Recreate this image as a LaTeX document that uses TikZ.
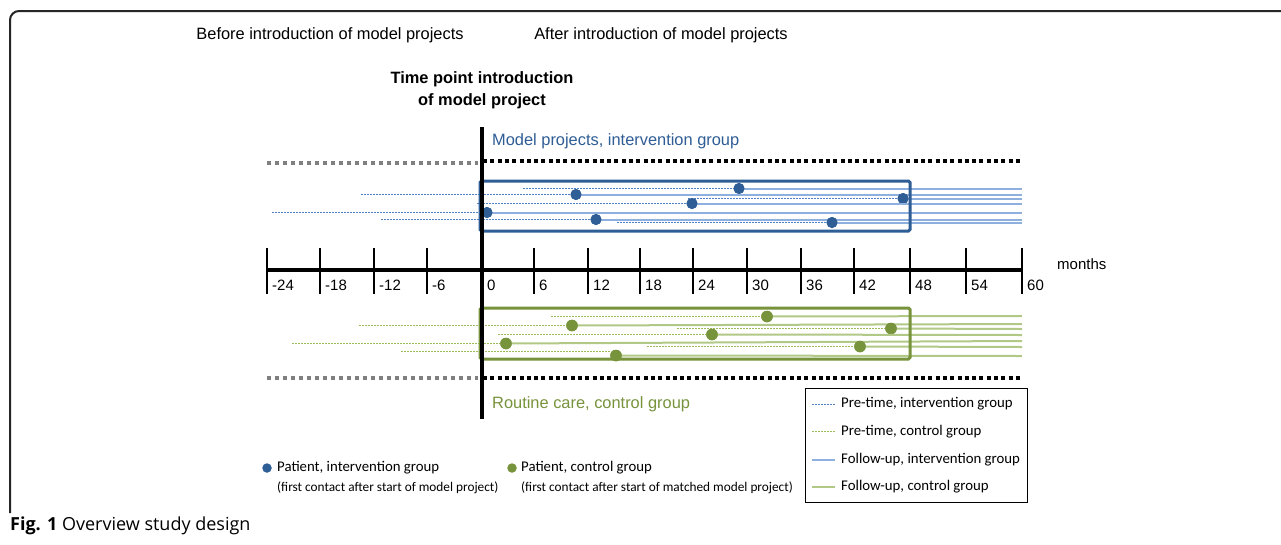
\documentclass[tikz,border=0pt]{standalone}
\usepackage{fontspec}
\setmainfont{Liberation Sans}
\newfontfamily\legfont{Carlito}
\newfontfamily\capfont{Open Sans}
\usetikzlibrary{calc}
\definecolor{ivdark}{HTML}{2F5D95}
\definecolor{ivline}{HTML}{8EB0DE}
\definecolor{ivdot}{HTML}{4F81C6}
\definecolor{ctdark}{HTML}{77933C}
\definecolor{ctline}{HTML}{B2C887}
\definecolor{ctdot}{HTML}{9BBB59}
\tikzset{
  px/.style={x=1pt,y=-1pt},
  txt/.style={inner sep=0pt,font=\fontsize{16.4}{19}\selectfont},
  ticklab/.style={inner sep=0pt,anchor=west,font=\fontsize{15}{18}\selectfont},
  legtxt/.style={inner sep=0pt,anchor=west,font=\legfont\fontsize{14.8}{17}\selectfont},
  subtxt/.style={inner sep=0pt,anchor=west,font=\legfont\fontsize{13.3}{16}\selectfont},
  pretime/.style={line width=1pt,dash pattern=on 2pt off 1pt},
  follow/.style={line width=2pt},
  patient/.style={circle,inner sep=0pt,minimum size=#1},
  sepgray/.style={line width=4pt,color=black!50,dash pattern=on 4pt off 4pt},
  sepblack/.style={line width=4pt,color=black,dash pattern=on 4pt off 3.3pt},
  groupbox/.style={line width=3pt,rounded corners=1.5pt},
}
\begin{document}
\begin{tikzpicture}[px]
\useasboundingbox (0,0) rectangle (1281,544);
\fill[white] (0,0) rectangle (1281,544);

% outer frame (top and left edges only)
\draw[line width=2pt,color=black!85,rounded corners=9pt] (10,513) -- (10,11) -- (1290,11);

% headings
\node[txt] (before) at (330,35) {Before introduction of model projects};
\node[txt] (after) at (661,35) {After introduction of model projects};
\node[txt,font=\fontsize{16.4}{19}\selectfont\bfseries] (tp1) at (482,79) {Time point introduction};
\node[txt,font=\fontsize{16.4}{19}\selectfont\bfseries] (tp2) at (482,101) {of model project};

% separators between the groups
\draw[sepgray] (267,163) -- (478,163);
\draw[sepblack] (483,161) -- (1022,161);
\draw[sepgray] (267,378) -- (478,378);
\draw[sepblack] (483,378) -- (1022,378);

% group titles
\node[txt,anchor=west,text=ivdark] (ivtitle) at (492,141) {Model projects, intervention group};
\node[txt,anchor=west,text=ctdark] (cttitle) at (492,404) {Routine care, control group};

% intervention group patients: start of pre-time / first contact / y
\foreach \xs/\xd/\yy [count=\i] in {523/739/188.5, 361/576/194.5, 688/903/198.5, 477/692/203.5, 272/487/212.5, 381/596/219.5, 617/832/222.5}{
  \node[patient=11pt,fill=ivdark] (iv\i) at (\xd,\yy) {};
  \coordinate (ivs\i) at (\xs,\yy);
  \coordinate (ivf\i) at (\xd,\yy+0.5);
  \coordinate (ive\i) at (1022,\yy+0.5);
  \draw[pretime,ivdot] (ivs\i) -- (iv\i.center);
  \draw[follow,ivline] (ivf\i) -- (ive\i);
  \node[patient=11pt,fill=ivdark] at (iv\i) {};
}

% control group patients: pre-time start x, y / end of pre-time x / first contact x, y / follow-up end y
\foreach \xs/\ys/\xp/\xd/\yd/\ye [count=\i] in {551/316.5/767/767/316.5/316, 359/325.5/572/572/325.5/324, 677/328.5/891/891/328.5/329, 498/334.5/712/712/334.5/335, 292/343.5/506/506/343.5/341, 647/346.5/860/860/346.5/347, 401/351.5/611/616/355.5/356}{
  \node[patient=11.5pt,fill=ctdark] (ct\i) at (\xd,\yd) {};
  \coordinate (cts\i) at (\xs,\ys);
  \coordinate (ctp\i) at (\xp,\ys);
  \coordinate (cte\i) at (1022,\ye);
  \draw[pretime,ctdot] (cts\i) -- (ctp\i);
  \draw[follow,ctline] (ct\i.center) -- (cte\i);
  \node[patient=11.5pt,fill=ctdark] at (ct\i) {};
}

% group boxes
\draw[groupbox,ivdark] (480,181) rectangle (910,231);
\draw[groupbox,ctdark] (480,308) rectangle (910,359);

% time axis
\draw[line width=3.5pt] (267,270) -- (1022,270);
\foreach \xx/\lab in {267/-24, 320/-18, 374/-12, 427/-6, 534/6, 588/12, 640/18, 693/24, 747/30, 801/36, 854/42, 910/48, 966/54, 1022/60}{
  \draw[line width=2pt] (\xx,248) -- (\xx,294);
  \node[ticklab] (t\lab) at (\xx+5,285) {\lab};
}
\node[ticklab] (t0) at (487,285) {0};
\node[ticklab] (months) at (1057,264) {months};

% time point of introduction
\draw[line width=3.5pt] (482,127) -- (482,419);

% legend box
\node[draw,line width=1pt,minimum width=222pt,minimum height=114pt,anchor=north west,inner sep=0pt] (legend) at (805,388) {};
\foreach \yy/\ly/\sty/\col/\lab [count=\i] in {
  404/404.5/pretime/ivdot/{Pre-time, intervention group},
  431.5/431.5/pretime/ctdot/{Pre-time, control group},
  459.5/460/follow/ivline/{Follow-up, intervention group},
  487/487/follow/ctline/{Follow-up, control group}}{
  \coordinate (la\i) at (812,\ly);
  \coordinate (lb\i) at (835,\ly);
  \draw[\sty,\col] (la\i) -- (lb\i);
  \node[legtxt] (lt\i) at (841,\yy) {\lab};
}

% patient legend
\node[patient=9.5pt,fill=ivdark] (kiv) at (267,468) {};
\node[legtxt] (kivt) at (277,468) {Patient, intervention group};
\node[subtxt] (kivs) at (277,488) {(first contact after start of model project)};
\node[patient=9.5pt,fill=ctdark] (kct) at (512,468) {};
\node[legtxt] (kctt) at (521,468) {Patient, control group};
\node[subtxt] (kcts) at (521,488) {(first contact after start of matched model project)};

% caption
\node[inner sep=0pt,anchor=west,font=\capfont\fontsize{18}{21}\selectfont] (caption) at (10,526) {\textbf{Fig. 1} Overview study design};
\end{tikzpicture}
\end{document}
